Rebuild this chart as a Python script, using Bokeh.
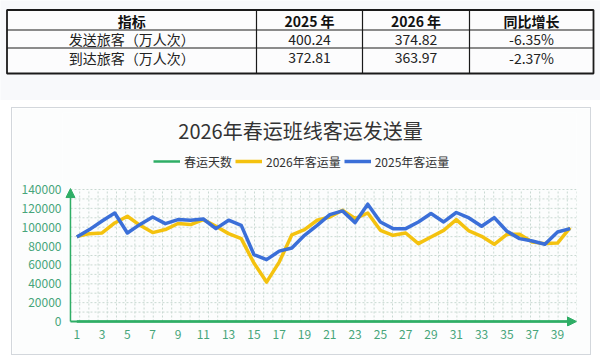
from bokeh.plotting import figure
from bokeh.models import (Range1d, FixedTicker, Legend, LegendItem, Label, Arrow,
                          NormalHead, ColumnDataSource)
from bokeh.core.properties import value
from bokeh.embed import file_html
from bokeh.resources import INLINE

FONT = "Noto Sans CJK SC"

# ---------------- data ----------------
table_header = ["指标", "2025 年", "2026 年", "同比增长"]
row_labels = ["发送旅客（万人次）", "到达旅客（万人次）"]
values_2025 = ["400.24", "372.81"]
values_2026 = ["374.82", "363.97"]
yoy_change = ["-6.35%", "-2.37%"]

chart_title = "2026年春运班线客运发送量"
series_names = ["春运天数", "2026年客运量", "2025年客运量"]
days = [1, 2, 3, 4, 5, 6, 7, 8, 9, 10, 11, 12, 13, 14, 15, 16, 17, 18, 19, 20,
        21, 22, 23, 24, 25, 26, 27, 28, 29, 30, 31, 32, 33, 34, 35, 36, 37, 38, 39, 40]
spring_days = [1, 2, 3, 4, 5, 6, 7, 8, 9, 10, 11, 12, 13, 14, 15, 16, 17, 18, 19, 20,
               21, 22, 23, 24, 25, 26, 27, 28, 29, 30, 31, 32, 33, 34, 35, 36, 37, 38, 39, 40]
pax_2026 = [90000, 93200, 93900, 104500, 111600, 102000, 94300, 97500, 103900, 102800,
            108100, 101000, 93200, 87900, 62000, 41800, 63000, 92000, 97500, 107400,
            110900, 118000, 109200, 115100, 96700, 91400, 93900, 82600, 89600, 96700,
            108100, 96000, 90400, 81900, 92500, 92500, 84300, 82600, 83200, 99600]
pax_2025 = [89600, 97500, 106600, 115100, 93900, 103000, 110900, 103800, 108100, 107400,
            108700, 98500, 107400, 102000, 71000, 65600, 74600, 78000, 91400, 102000,
            113400, 117300, 104900, 124400, 105600, 98500, 98500, 105600, 114500, 105600,
            115600, 109800, 101000, 110200, 95700, 87900, 85400, 81900, 94900, 98500]
x_ticks = [1, 3, 5, 7, 9, 11, 13, 15, 17, 19, 21, 23, 25, 27, 29, 31, 33, 35, 37, 39]
y_ticks = [0, 20000, 40000, 60000, 80000, 100000, 120000, 140000]

GREEN = "#2fae66"
YELLOW = "#f4c20f"
BLUE = "#3b6fd8"
TICK_GREEN = "#47a57a"
PAGE_BG = "#f8f9fb"
BOX_BG = "#fcfdfd"
GRID = "#c9d9d2"

# ---------------- table figure (data units = page pixels) ----------------
t = figure(width=600, height=100, x_range=Range1d(0, 600), y_range=Range1d(100, 0),
           x_axis_type=None, y_axis_type=None, toolbar_location=None, title=None,
           output_backend="svg", min_border=0, outline_line_color=None,
           background_fill_color=PAGE_BG, border_fill_color=PAGE_BG)
t.grid.visible = False

col_edges = [6.5, 256, 362, 469, 593]
row_edges = [9.5, 29.5, 47.5, 73]
col_centers = [(col_edges[i] + col_edges[i + 1]) / 2 for i in range(4)]

t.quad(left=[col_edges[0]], right=[col_edges[-1]], top=[row_edges[0]], bottom=[row_edges[-1]],
       fill_color="#fcfcfd", line_color="#1a1a1a", line_width=1.8)
t.segment(x0=col_edges[1:4], x1=col_edges[1:4], y0=[row_edges[0]] * 3, y1=[row_edges[-1]] * 3,
          line_color="#1a1a1a", line_width=1.2)
t.segment(x0=[col_edges[0]] * 2, x1=[col_edges[-1]] * 2, y0=row_edges[1:3], y1=row_edges[1:3],
          line_color="#1a1a1a", line_width=1.2)

t.text(x=col_centers, y=[20] * 4, text=table_header, text_align="center", text_baseline="middle",
       text_font=value(FONT), text_font_size="14px", text_font_style="bold", text_color="#111")
row_y = [38.5, 57]
for i in range(2):
    t.text(x=col_centers, y=[row_y[i]] * 4,
           text=[row_labels[i], values_2025[i], values_2026[i], yoy_change[i]],
           text_align="center", text_baseline="middle", text_font=value(FONT),
           text_font_size="14px", text_color="#222")

# ---------------- chart figure ----------------
# figure occupies page x 12..590, y 108..354 ; frame x 62..576, y 112..326
p = figure(width=578, height=246, x_range=Range1d(-0.13, 40.5), y_range=Range1d(-5300, 221670),
           toolbar_location=None, output_backend="svg", title=None,
           min_border_left=50, min_border_right=14, min_border_top=4, min_border_bottom=28,
           background_fill_color=BOX_BG, border_fill_color=BOX_BG,
           outline_line_color=None, margin=(8, 0, 0, 12),
           styles={"outline": "1px solid #d3d7dc"})
p.grid.visible = False

# dashed background grid (within the plotting area only)
hgrid = list(range(10000, 140001, 10000))
vgrid = [0.5 + k * 40 / 55 for k in range(1, 56)]
p.segment(x0=[0.5] * len(hgrid), x1=[40.5] * len(hgrid), y0=hgrid, y1=hgrid,
          line_color=GRID, line_dash="2 2", line_width=1)
p.segment(x0=vgrid, x1=vgrid, y0=[0] * len(vgrid), y1=[140000] * len(vgrid),
          line_color=GRID, line_dash="2 2", line_width=1)

p.xaxis.ticker = FixedTicker(ticks=x_ticks)
p.yaxis.ticker = FixedTicker(ticks=y_ticks)
p.yaxis.major_label_overrides = {v: str(v) for v in y_ticks}
for ax in (p.xaxis, p.yaxis):
    ax.axis_line_color = None
    ax.major_tick_line_color = None
    ax.minor_tick_line_color = None
    ax.major_tick_out = 0
    ax.major_tick_in = 0
    ax.minor_tick_out = 0
    ax.major_label_text_color = TICK_GREEN
    ax.major_label_text_font = FONT
    ax.major_label_text_font_size = "12px"
p.xaxis.major_label_standoff = 3
p.yaxis.major_label_standoff = 1

# axis lines with arrow heads
p.add_layout(Arrow(end=NormalHead(size=9, fill_color=GREEN, line_color=GREEN),
                   x_start=0.5, y_start=0, x_end=40.5, y_end=0,
                   line_color=GREEN, line_width=2))
p.add_layout(Arrow(end=NormalHead(size=9, fill_color=GREEN, line_color=GREEN),
                   x_start=0.5, y_start=0, x_end=0.5, y_end=141000,
                   line_color=GREEN, line_width=1.5))

src = ColumnDataSource(dict(day=days, sd=spring_days, y26=pax_2026, y25=pax_2025))
r_green = p.line("day", "sd", source=src, line_color=GREEN, line_width=2.5)
r26 = p.line("day", "y26", source=src, line_color=YELLOW, line_width=3.5, line_join="round")
r25 = p.line("day", "y25", source=src, line_color=BLUE, line_width=3.5, line_join="round")

legend = Legend(items=[LegendItem(label=series_names[0], renderers=[r_green]),
                       LegendItem(label=series_names[1], renderers=[r26]),
                       LegendItem(label=series_names[2], renderers=[r25])],
                location=(91, 155), orientation="horizontal", glyph_width=27, glyph_height=20,
                label_standoff=4, spacing=3, padding=0, margin=0, border_line_color=None,
                background_fill_alpha=0, label_text_font=FONT, label_text_font_size="12px",
                label_text_color="#333")
p.add_layout(legend)

p.add_layout(Label(x=238, y=196, x_units="screen", y_units="screen", text=chart_title,
                   text_align="center", text_baseline="middle", text_font=FONT,
                   text_font_size="20px", text_color="#333"))

open("out.html", "w").write(file_html([t, p], INLINE))
